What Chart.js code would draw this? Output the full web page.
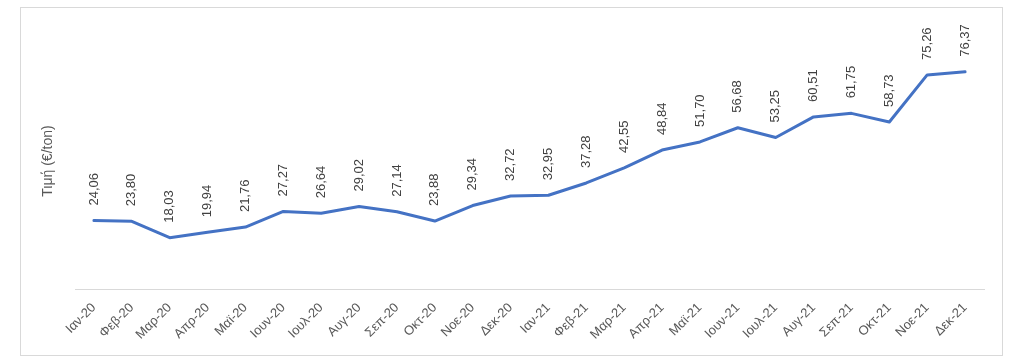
<!DOCTYPE html>
<html>
<head>
<meta charset="utf-8">
<script src="https://cdn.jsdelivr.net/npm/chart.js@4/dist/chart.umd.min.js"></script>
<style>
  body { margin: 0; background: #fff; }
  #frame { position: absolute; left: 20px; top: 7px; width: 981px; height: 347px; border: 1px solid #d9d9d9; }
</style>
</head>
<body>
<div id="frame"><canvas id="chart" width="981" height="347"></canvas></div>
<script>
const months = ['Ιαν-20', 'Φεβ-20', 'Μαρ-20', 'Απρ-20', 'Μαϊ-20', 'Ιουν-20', 'Ιουλ-20', 'Αυγ-20', 'Σεπ-20', 'Οκτ-20', 'Νοε-20', 'Δεκ-20',
    'Ιαν-21', 'Φεβ-21', 'Μαρ-21', 'Απρ-21', 'Μαϊ-21', 'Ιουν-21', 'Ιουλ-21', 'Αυγ-21', 'Σεπ-21', 'Οκτ-21', 'Νοε-21', 'Δεκ-21']
const prices = [24.06, 23.80, 18.03, 19.94, 21.76, 27.27, 26.64, 29.02, 27.14, 23.88, 29.34, 32.72,
    32.95, 37.28, 42.55, 48.84, 51.70, 56.68, 53.25, 60.51, 61.75, 58.73, 75.26, 76.37]
const yTitle = 'Τιμή (€/ton)'

// vertical value labels above each point, greek decimal comma
const valueLabels = {
    id: 'valueLabels',
    afterDatasetsDraw(chart) {
        const ctx = chart.ctx
        const meta = chart.getDatasetMeta(0)
        ctx.save()
        ctx.fillStyle = '#404040'
        ctx.font = '13px "Liberation Sans", Arial, sans-serif'
        ctx.textAlign = 'left'
        ctx.textBaseline = 'middle'
        meta.data.forEach((pt, i) => {
            ctx.save()
            ctx.translate(pt.x, pt.y - 15)
            ctx.rotate(-Math.PI / 2)
            ctx.fillText(prices[i].toFixed(2).replace('.', ','), 0, 0)
            ctx.restore()
        })
        ctx.restore()
    }
}

const ctx = document.getElementById('chart').getContext('2d')
new Chart(ctx, {
    type: 'line',
    data: {
        labels: months,
        datasets: [{
            data: prices,
            borderColor: '#4472c4',
            borderWidth: 3,
            pointRadius: 0,
            tension: 0,
            borderJoinStyle: 'round',
            borderCapStyle: 'round'
        }]
    },
    options: {
        responsive: false,
        animation: false,
        layout: { padding: { top: 25, right: 18, left: 0, bottom: 0 } },
        plugins: { legend: { display: false }, tooltip: { enabled: false } },
        scales: {
            x: {
                offset: true,
                grid: { display: false },
                border: { display: true, color: '#d9d9d9', width: 1 },
                ticks: {
                    color: '#595959',
                    font: { family: '"Liberation Sans", Arial, sans-serif', size: 13 },
                    minRotation: 45,
                    maxRotation: 45,
                    autoSkip: false,
                    padding: 3
                },
                afterFit: (scale) => { scale.height = 66 }
            },
            y: {
                min: 0,
                max: 90,
                grid: { display: false },
                border: { display: false },
                ticks: { display: false },
                title: {
                    display: true,
                    text: yTitle,
                    color: '#595959',
                    font: { family: '"Liberation Sans", Arial, sans-serif', size: 14 },
                    padding: { top: 19, bottom: 0 }
                },
                afterFit: (scale) => { scale.width = 54 }
            }
        }
    },
    plugins: [valueLabels]
})
</script>
</body>
</html>
